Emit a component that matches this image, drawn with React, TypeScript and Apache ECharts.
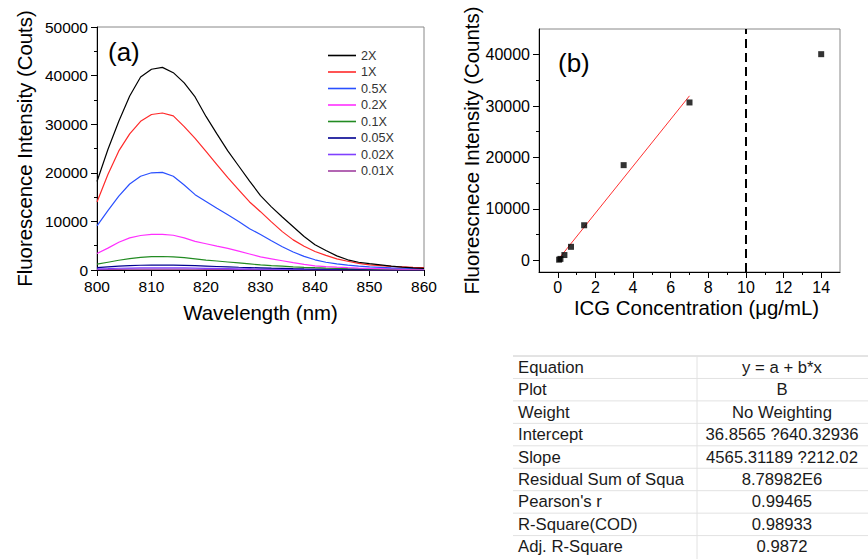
import { useEffect, useRef } from 'react';
import * as echarts from 'echarts';

// ---------- Data: panel (a) emission spectra ----------
const wavelengths = [800, 802, 804, 806, 808, 810, 812, 814, 816, 818, 820, 822, 824, 826, 828, 830, 832, 834, 836, 838, 840, 842, 844, 846, 848, 850, 852, 854, 856, 858, 860];
const spec2X = [18200, 24800, 30600, 35800, 39700, 41300, 41700, 40600, 38500, 35600, 31600, 28000, 24500, 21400, 18300, 15300, 13000, 10900, 8900, 6900, 5200, 4000, 2900, 2100, 1600, 1300, 1050, 800, 600, 450, 350];
const spec1X = [14000, 19650, 24500, 28000, 30600, 32000, 32300, 31700, 29500, 27100, 24400, 21700, 19000, 16500, 14000, 12000, 9900, 7900, 6200, 4900, 3800, 3000, 2300, 1800, 1350, 1050, 900, 750, 650, 550, 480];
const spec05X = [9100, 12200, 15200, 17700, 19300, 20000, 20100, 19300, 17500, 15500, 14100, 12700, 11350, 10000, 8500, 7300, 6000, 4800, 3700, 2800, 2100, 1600, 1250, 1000, 800, 650, 550, 450, 400, 330, 300];
const spec02X = [3400, 4500, 5700, 6600, 7100, 7350, 7350, 7150, 6600, 5900, 5400, 4900, 4450, 3900, 3300, 2700, 2300, 1900, 1500, 1150, 850, 700, 580, 480, 400, 330, 280, 240, 200, 180, 160];
const spec01X = [1200, 1600, 2000, 2350, 2600, 2750, 2780, 2700, 2550, 2300, 2050, 1850, 1650, 1450, 1250, 1050, 900, 780, 650, 550, 470, 400, 350, 300, 260, 230, 200, 180, 160, 140, 130];
const spec005X = [500, 650, 800, 900, 980, 1020, 1030, 1000, 950, 880, 800, 720, 650, 570, 500, 430, 370, 320, 270, 230, 200, 170, 150, 130, 115, 100, 90, 80, 70, 65, 60];
const spec002X = [230, 290, 360, 400, 430, 450, 455, 440, 420, 390, 350, 320, 290, 250, 220, 190, 165, 140, 120, 100, 90, 75, 65, 58, 50, 45, 40, 36, 32, 30, 28];
const spec001X = [90, 115, 140, 160, 172, 180, 182, 176, 168, 155, 140, 128, 115, 100, 88, 76, 66, 56, 48, 40, 35, 30, 26, 23, 20, 18, 16, 14, 13, 12, 11];
const seriesNames = ['2X', '1X', '0.5X', '0.2X', '0.1X', '0.05X', '0.02X', '0.01X'];
const spectra = [spec2X, spec1X, spec05X, spec02X, spec01X, spec005X, spec002X, spec001X];

// ---------- Data: panel (b) calibration ----------
const concentrations = [0.07, 0.14, 0.35, 0.7, 1.4, 3.5, 7, 14];
const peakCounts = [100, 250, 1000, 2600, 6800, 18500, 30700, 40100];
const fitIntercept = 36.8565;
const fitSlope = 4565.31189;
const fitRange = [0.07, 7];
const cutoffConcentration = 10;
const xTicksB = [0, 2, 4, 6, 8, 10, 12, 14];
const xMinorTicksB = [1, 3, 5, 7, 9, 11, 13];
const yTicksB = [0, 10000, 20000, 30000, 40000];
const yMinorTicksB = [5000, 15000, 25000, 35000];

// ---------- Data: fit table ----------
const tableLabels = ['Equation', 'Plot', 'Weight', 'Intercept', 'Slope', 'Residual Sum of Squa', "Pearson's r", 'R-Square(COD)', 'Adj. R-Square'];
const tableValues = ['y = a + b*x', 'B', 'No Weighting', '36.8565 ?640.32936', '4565.31189 ?212.02', '8.78982E6', '0.99465', '0.98933', '0.9872'];

// ---------- Styles ----------
const seriesColors = ['#000000', '#ff2a2a', '#2a50ff', '#ff30ff', '#228b22', '#000090', '#8040ff', '#a040a0'];
const FONT = "'Liberation Sans', Arial, sans-serif";

export default function App() {
  const ref = useRef<HTMLDivElement>(null);

  useEffect(() => {
    if (!ref.current) return;
    const chart = echarts.init(ref.current, undefined, { renderer: 'svg' });

    const plain = (v: number) => String(v);
    const axisCommon = {
      axisLine: { show: true, onZero: false, lineStyle: { color: '#000', width: 1 } },
      splitLine: { show: false },
      axisLabel: { color: '#000', fontSize: 15.5, fontFamily: FONT, margin: 8, formatter: plain },
      nameLocation: 'middle' as const,
      nameTextStyle: { color: '#000', fontSize: 20.4, fontFamily: FONT },
    };

    const specSeries = seriesNames.map((name, i) => ({
      type: 'line',
      name,
      xAxisIndex: 0,
      yAxisIndex: 0,
      data: wavelengths.map((w, j) => [w, spectra[i][j]]),
      symbol: 'none',
      showSymbol: false,
      lineStyle: { width: 1.2, color: seriesColors[i] },
      itemStyle: { color: seriesColors[i] },
      z: 10 - i,
    }));

    const rowH = 22.45;
    const tableTop = 356;
    const tableGraphics: any[] = [];
    tableGraphics.push({ type: 'line', shape: { x1: 513, y1: tableTop, x2: 868, y2: tableTop }, style: { stroke: '#c8c8c8', lineWidth: 1 } });
    for (let k = 1; k < tableLabels.length; k++) {
      const y = tableTop + rowH * k;
      tableGraphics.push({ type: 'line', shape: { x1: 513, y1: y, x2: 868, y2: y }, style: { stroke: '#e2e2e2', lineWidth: 1 } });
    }
    tableGraphics.push({ type: 'line', shape: { x1: 697, y1: tableTop, x2: 697, y2: 559 }, style: { stroke: '#e2e2e2', lineWidth: 1 } });
    tableLabels.forEach((lab, i) => {
      const y = tableTop + rowH * i + rowH / 2;
      tableGraphics.push({ type: 'text', style: { text: lab, x: 518, y, fontSize: 16.7, fontFamily: FONT, fill: '#1a1a1a', align: 'left', verticalAlign: 'middle' } });
      tableGraphics.push({ type: 'text', style: { text: tableValues[i], x: 782, y, fontSize: 16.7, fontFamily: FONT, fill: '#1a1a1a', align: 'center', verticalAlign: 'middle' } });
    });

    chart.setOption({
      animation: false,
      backgroundColor: '#fff',
      textStyle: { fontFamily: FONT },
      grid: [
        { left: 97, top: 27, width: 327, height: 243, show: true, borderColor: '#888', borderWidth: 1, outerBoundsMode: 'none' },
        { left: 539, top: 29, width: 301, height: 243, show: true, borderColor: '#888', borderWidth: 1, outerBoundsMode: 'none' },
      ],
      legend: {
        data: seriesNames,
        orient: 'vertical',
        left: 328,
        top: 49,
        padding: 0,
        icon: 'rect',
        itemWidth: 28,
        itemHeight: 1.6,
        itemGap: 3.5,
        textStyle: { fontSize: 12.6, color: '#333', fontFamily: FONT },
      },
      xAxis: [
        {
          ...axisCommon,
          gridIndex: 0,
          type: 'value',
          min: 800,
          max: 860,
          interval: 10,
          axisTick: { show: true, inside: false, length: 6, lineStyle: { color: '#000' } },
          minorTick: { show: true, splitNumber: 2, length: 3, lineStyle: { color: '#000' } },
          name: 'Wavelength (nm)',
          nameGap: 33,
        },
        {
          ...axisCommon,
          gridIndex: 1,
          type: 'value',
          position: 'bottom',
          min: -1,
          max: 15,
          axisLabel: { ...axisCommon.axisLabel, fontSize: 16, margin: 7, customValues: xTicksB },
          axisTick: { show: true, inside: false, length: 6, lineStyle: { color: '#000' }, customValues: xTicksB },
          name: 'ICG Concentration (μg/mL)',
          nameGap: 26,
          nameTextStyle: { ...axisCommon.nameTextStyle, padding: [0, 0, 0, 14] },
        },
        {
          gridIndex: 1,
          type: 'value',
          position: 'bottom',
          min: -1,
          max: 15,
          axisLine: { show: false, onZero: false },
          splitLine: { show: false },
          axisLabel: { show: false },
          axisTick: { show: true, inside: false, length: 3, lineStyle: { color: '#000' }, customValues: xMinorTicksB },
        },
      ],
      yAxis: [
        {
          ...axisCommon,
          gridIndex: 0,
          type: 'value',
          min: 0,
          max: 50000,
          interval: 10000,
          axisLabel: { ...axisCommon.axisLabel, margin: 9 },
          axisTick: { show: true, inside: false, length: 6, lineStyle: { color: '#000' } },
          minorTick: { show: true, splitNumber: 2, length: 3, lineStyle: { color: '#000' } },
          name: 'Fluorescence Intensity (Couts)',
          nameGap: 62,
        },
        {
          ...axisCommon,
          gridIndex: 1,
          type: 'value',
          position: 'left',
          min: -2300,
          max: 45000,
          axisLabel: { ...axisCommon.axisLabel, fontSize: 16, margin: 9, customValues: yTicksB },
          axisTick: { show: true, inside: false, length: 6, lineStyle: { color: '#000' }, customValues: yTicksB },
          name: 'Fluorescnece Intensity (Counts)',
          nameGap: 56,
        },
        {
          gridIndex: 1,
          type: 'value',
          position: 'left',
          min: -2300,
          max: 45000,
          axisLine: { show: false, onZero: false },
          splitLine: { show: false },
          axisLabel: { show: false },
          axisTick: { show: true, inside: false, length: 3, lineStyle: { color: '#000' }, customValues: yMinorTicksB },
        },
      ],
      series: [
        ...specSeries,
        {
          type: 'line',
          name: 'fit',
          xAxisIndex: 1,
          yAxisIndex: 1,
          data: fitRange.map((x) => [x, fitIntercept + fitSlope * x]),
          symbol: 'none',
          lineStyle: { color: '#ff3030', width: 1 },
          z: 5,
        },
        {
          type: 'scatter',
          name: 'points',
          xAxisIndex: 1,
          yAxisIndex: 1,
          data: concentrations.map((c, i) => [c, peakCounts[i]]),
          symbol: 'rect',
          symbolSize: 6,
          itemStyle: { color: '#000' },
          z: 6,
          markLine: {
            silent: true,
            symbol: 'none',
            label: { show: false },
            lineStyle: { color: '#000', width: 2, type: [9, 5] },
            data: [{ xAxis: cutoffConcentration }],
          },
        },
      ],
      graphic: [
        { type: 'text', style: { text: '(a)', x: 108, y: 52, fontSize: 26, fontFamily: FONT, fill: '#000', align: 'left', verticalAlign: 'middle' } },
        { type: 'text', style: { text: '(b)', x: 558, y: 63, fontSize: 26, fontFamily: FONT, fill: '#000', align: 'left', verticalAlign: 'middle' } },
        ...tableGraphics,
      ],
    });

    return () => chart.dispose();
  }, []);

  return (
    <div
      ref={ref}
      style={{ position: 'absolute', left: 0, top: 0, width: 868, height: 559, background: '#fff' }}
    />
  );
}
